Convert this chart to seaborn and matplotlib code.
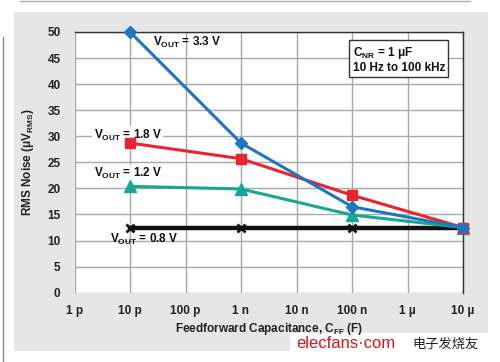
import pandas as pd
import matplotlib
matplotlib.use('Agg')
import matplotlib.pyplot as plt
import matplotlib.patches as mpatches
import seaborn as sns

# values
cff = [1e-11, 1e-9, 1e-7, 1e-5]
noise_33 = [50.0, 28.7, 16.5, 12.5]
noise_18 = [28.7, 25.7, 18.7, 12.5]
noise_12 = [20.4, 19.9, 14.9, 12.5]
noise_08 = [12.5, 12.5, 12.5, 12.5]
x_ticks = [1e-12, 1e-11, 1e-10, 1e-9, 1e-8, 1e-7, 1e-6, 1e-5]
x_labels = ['1 p', '10 p', '100 p', '1 n', '10 n', '100 n', '1 µ', '10 µ']
y_ticks = [0, 5, 10, 15, 20, 25, 30, 35, 40, 45, 50]

series = {'3.3 V': noise_33, '1.8 V': noise_18, '1.2 V': noise_12, '0.8 V': noise_08}
rows = []
for name, vals in series.items():
    for c, v in zip(cff, vals):
        rows.append({'cff': c, 'noise': v, 'vout': name})
data = pd.DataFrame(rows)

sns.set_style('white')
plt.rcParams['font.family'] = ['Liberation Sans', 'Noto Sans CJK SC', 'DejaVu Sans']
plt.rcParams['mathtext.fontset'] = 'custom'
plt.rcParams['mathtext.rm'] = 'Liberation Sans'
plt.rcParams['mathtext.bf'] = 'Liberation Sans:bold'

colors = {'3.3 V': '#1c76c4', '1.8 V': '#e8242c', '1.2 V': '#17a796', '0.8 V': '#111111'}
markers = {'3.3 V': 'D', '1.8 V': 's', '1.2 V': '^', '0.8 V': 'x'}
msize = {'3.3 V': 6, '1.8 V': 7, '1.2 V': 8, '0.8 V': 6}
lw = {'3.3 V': 2.2, '1.8 V': 2.2, '1.2 V': 2.2, '0.8 V': 3.2}

fig = plt.figure(figsize=(5, 3.62), dpi=100)
# gray outer panel
fig.patches.append(mpatches.Rectangle((14 / 500, 1 - 351 / 362), 474 / 500, 339 / 362,
                                      transform=fig.transFigure, facecolor='#e6e6e6',
                                      edgecolor='none', zorder=-5))
# white strip behind the watermark
fig.patches.append(mpatches.Rectangle((290 / 500, 1 - 352 / 362), 198 / 500, 19 / 362,
                                      transform=fig.transFigure, facecolor='white',
                                      edgecolor='none', zorder=-4))
fig.add_artist(plt.Line2D([3 / 500, 3 / 500], [1 - 37 / 362, 0], transform=fig.transFigure,
                          color='#888888', lw=1, zorder=-3))
fig.add_artist(plt.Line2D([20 / 500, 470 / 500], [1 - 1 / 362, 1 - 1 / 362],
                          transform=fig.transFigure, color='#aaaaaa', lw=1, zorder=-3))

ax = fig.add_axes([74.5 / 500, 1 - 292.7 / 362, (463 - 74.5) / 500, (292.7 - 32) / 362])
ax.set_facecolor('white')

for name in ['0.8 V', '1.2 V', '1.8 V', '3.3 V']:
    sub = data[data['vout'] == name]
    sns.lineplot(data=sub, x='cff', y='noise', ax=ax, color=colors[name],
                 marker=markers[name], markersize=msize[name], lw=lw[name],
                 markeredgecolor=colors[name], markeredgewidth=2 if name == '0.8 V' else 1,
                 legend=False, zorder=5, clip_on=False)

ax.set_xscale('log')
ax.set_xlim(1e-12, 1e-5)
ax.set_ylim(0, 50)
ax.set_xticks(x_ticks)
ax.set_xticklabels(x_labels)
ax.minorticks_off()
ax.set_yticks(y_ticks)
ax.grid(True, color='#a8a8a8', lw=1)
for s in ['top', 'right']:
    ax.spines[s].set_color('#333333')
    ax.spines[s].set_linewidth(1)
ax.spines['left'].set_visible(False)
ax.spines['bottom'].set_visible(False)
ax.tick_params(axis='y', length=8, width=1, color='#333333', labelsize=8.5, labelcolor='#222222', pad=2)
ax.tick_params(axis='x', length=4, width=1, color='#a8a8a8', labelsize=8.5, labelcolor='#222222', pad=5)
for lab in ax.get_xticklabels() + ax.get_yticklabels():
    lab.set_fontweight('bold')

ax.set_xlabel(r'Feedforward Capacitance, C$_{\mathbf{FF}}$ (F)', fontsize=8.5,
              fontweight='bold', color='#222222', labelpad=3)
ax.set_ylabel(r'RMS Noise ($\mathbf{\mu}$V$_{\mathbf{RMS}}$)', fontsize=8.5,
              fontweight='bold', color='#222222', labelpad=8)

txt = dict(fontsize=8.5, fontweight='bold', color='#111111', zorder=4)
ax.text(2.6e-11, 47.9, r'V$_{\mathbf{OUT}}$ = 3.3 V', ha='left', va='center', **txt)
ax.text(2.2e-12, 30.2, r'V$_{\mathbf{OUT}}$ = 1.8 V', ha='left', va='center',
        bbox=dict(facecolor='white', edgecolor='none', pad=1), **txt)
ax.text(2.2e-12, 22.8, r'V$_{\mathbf{OUT}}$ = 1.2 V', ha='left', va='center',
        bbox=dict(facecolor='white', edgecolor='none', pad=1), **txt)
ax.text(4.4e-12, 10.2, r'V$_{\mathbf{OUT}}$ = 0.8 V', ha='left', va='center', **txt)
ax.text(0.716, 0.95, 'C$_{\\mathbf{NR}}$ = 1 $\\mathbf{\\mu}$F\n10 Hz to 100 kHz',
        transform=ax.transAxes, ha='left', va='top', fontsize=8.5, fontweight='bold',
        color='#111111', linespacing=1.1,
        bbox=dict(facecolor='white', edgecolor='#333333', lw=1, pad=2.5), zorder=6)

# watermark
fig.text(296 / 500, 1 - 344 / 362, 'elecfans·com', color='#d8141c', fontsize=12,
         ha='left', va='center', zorder=6)
fig.text(412 / 500, 1 - 344 / 362, '电子发烧友', color='#222222', fontsize=9.5,
         ha='left', va='center', family=['Noto Sans CJK SC', 'DejaVu Sans'], zorder=6)

fig.savefig('out.png', dpi=100)
